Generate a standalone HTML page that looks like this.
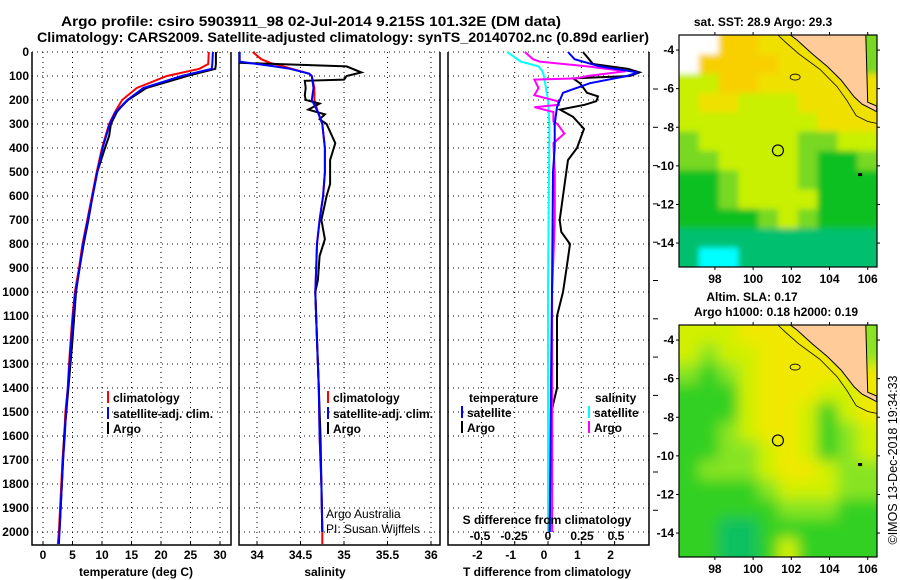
<!DOCTYPE html>
<html><head><meta charset="utf-8"><style>
html,body{margin:0;padding:0;background:#fff;}
svg{display:block;font-family:"Liberation Sans",Arial,sans-serif;}
.tk{font-size:12px;font-weight:bold;fill:#000;}
.ttl{font-size:14px;font-weight:bold;fill:#000;}
.lg{font-size:12px;font-weight:bold;fill:#000;}
</style></head><body>
<svg id="chart" width="900" height="580" viewBox="0 0 900 580">
<defs>
<clipPath id="clip1"><rect x="679" y="35" width="198" height="232"/></clipPath>
<clipPath id="clip2"><rect x="679" y="325" width="198" height="232"/></clipPath>
<filter id="blur1" x="-10%" y="-10%" width="120%" height="120%"><feGaussianBlur stdDeviation="3"/></filter>
<filter id="blur2" x="-10%" y="-10%" width="120%" height="120%"><feGaussianBlur stdDeviation="7"/></filter>
</defs>
<text x="311" y="26" text-anchor="middle" class="ttl" textLength="500" lengthAdjust="spacingAndGlyphs">Argo profile: csiro 5903911_98 02-Jul-2014 9.215S 101.32E (DM data)</text>
<text x="343" y="42" text-anchor="middle" class="ttl" textLength="612" lengthAdjust="spacingAndGlyphs">Climatology: CARS2009. Satellite-adjusted climatology: synTS_20140702.nc (0.89d earlier)</text>
<g id="g1"></g>
<g id="g2"></g>
<g id="g3"></g>
<g id="m1"></g>
<g id="m2"></g>
<text transform="translate(897,460) rotate(-90)" text-anchor="middle" style="font-size:12.5px">©IMOS 13-Dec-2018 19:34:33</text>
</svg>
<script>
// ---- data ----
const depthTicks=[0,100,200,300,400,500,600,700,800,900,1000,1100,1200,1300,1400,1500,1600,1700,1800,1900,2000];
const tDepth=[0,50,70,100,150,200,250,300,400,500,600,700,800,900,1000,1100,1200,1300,1400,1500,1600,1700,1800,1900,2000,2050];
const tClim=[28.1,28.0,26.5,21,15.9,13.4,12.2,11.2,10,9.1,8.3,7.5,6.7,6.1,5.4,5.0,4.7,4.4,4.2,3.8,3.6,3.3,3.1,2.9,2.7,2.5];
const tSat=[28.8,28.7,28.6,23.5,17,14.3,12.3,11.3,10.1,9.2,8.4,7.6,6.8,6.2,5.5,5.1,4.8,4.5,4.2,3.9,3.7,3.4,3.2,3.0,2.8,2.7];
const tArgoD=[0,50,70,100,150,200,230,250,300,350,400,500,600,700,800,900,1000,1200,1400,1600,1800,2000];
const tArgo=[29.3,29.3,29.2,24.4,17.5,14.4,13.2,12.5,11.5,11.2,10.5,9.2,8.4,7.7,6.9,6.2,5.6,5.0,4.3,3.6,3.2,2.8];
const sClimD=[0,30,45,60,70,90,100,150,200,250,300,400,500,600,700,800,900,1000,1200,1400,1600,1800,2000,2050];
const sClim=[33.95,34.05,34.15,34.3,34.4,34.6,34.63,34.66,34.66,34.7,34.75,34.78,34.78,34.76,34.72,34.69,34.68,34.67,34.69,34.71,34.72,34.74,34.75,34.75];
const sSatD=[0,40,50,60,70,90,100,150,200,250,300,400,500,600,700,800,900,1000,1200,1400,1600,1800,2000];
const sSat=[33.8,33.8,34.0,34.2,34.38,34.6,34.63,34.65,34.63,34.7,34.75,34.78,34.78,34.76,34.72,34.69,34.68,34.67,34.69,34.71,34.72,34.74,34.75];
const sArgoD=[0,45,60,85,100,115,120,150,180,200,215,240,260,280,300,380,450,550,600,700,780,850,950,1000,1200,1400,1600,1800,2000];
const sArgo=[33.8,33.8,35.03,35.2,35.03,35.0,34.55,34.56,34.55,34.56,34.72,34.59,34.78,34.72,34.8,34.9,34.84,34.84,34.8,34.74,34.78,34.72,34.7,34.67,34.69,34.71,34.73,34.74,34.75];
const dTArgoD=[0,50,70,85,100,110,130,170,185,205,220,240,270,300,320,400,450,500,600,700,750,800,900,1000,1100,1400,1500,2000];
const dTArgo=[1.05,1.35,2.4,2.75,2.46,0.75,0.96,1.17,1.5,1.45,1.1,0.36,0.75,0.95,1.08,0.87,0.6,0.55,0.45,0.35,0.4,0.66,0.56,0.45,0.27,0.27,0.1,0.05];
const dTSatD=[0,30,60,85,100,130,170,230,300,400,500,1000,1500,2000];
const dTSat=[0.6,0.8,1.56,2.7,2.37,1.26,0.45,0.27,0.2,0.2,0.15,0.12,0.08,0.05];
const dSArgoD=[0,30,40,60,80,100,110,115,150,180,205,220,230,250,290,300,340,380,500,700,1000,1500,2000];
const dSArgo=[-0.17,-0.11,-0.06,0.29,0.57,0.29,0.21,-0.1,-0.07,-0.1,0.07,0.08,-0.1,0.04,0.04,0.07,0.12,0.04,0.05,0.05,0.03,0.03,0.03];
const dSSatD=[0,40,60,80,100,200,300,1000,1500,2000];
const dSSat=[-0.3,-0.2,-0.07,-0.04,-0.03,0,0.01,0,0,0];
const tTicks=[0,5,10,15,20,25,30];
const sTicks=[34,34.5,35,35.5,36];
const sTickLabels=["34","34.5","35","35.5","36"];
const dTTicks=[-2,-1,0,1,2];
const dSTicks=[-0.5,-0.25,0,0.25,0.5];
const dSTickLabels=["-0.5","-0.25","0","0.25","0.5"];
// map fields (rows north->south, cols west->east)
const sstGrid=[
[0,0,7,7,6,6,6,6,6,4],[0,7,7,7,7,6,6,6,6,4],[5,5,7,7,6,6,6,6,6,6],[5,6,6,5,5,5,6,6,6,6],
[5,5,5,5,5,5,5,6,6,6],[4,5,5,5,5,5,4,4,5,5],[4,4,5,5,5,5,4,3,3,4],[3,3,4,5,5,5,4,3,3,3],
[3,3,4,5,5,5,5,3,3,3],[3,3,3,3,4,5,4,3,3,3],[2,2,2,2,2,2,2,2,2,2],[2,1,1,2,2,2,2,2,2,2]];
const slaGrid=[
[5,5,5,6,6,6,6,6,6,4],[5,4,5,5,6,6,6,6,6,4],[4,3,4,5,6,6,6,6,6,6],[3,3,3,5,6,6,6,5,5,6],
[3,3,3,5,6,6,5,3,5,6],[3,3,4,5,6,6,5,3,4,5],[3,3,4,4,5,6,5,3,4,5],[3,4,4,4,5,6,6,5,4,4],
[3,3,3,3,4,5,5,5,4,4],[3,3,3,3,3,4,4,4,3,3],[3,3,2,2,3,3,3,3,3,3],[3,3,2,2,3,5,3,3,3,3]];
const lonTicks=[98,100,102,104,106];
const latTicks=[-4,-6,-8,-10,-12,-14];
const argoLon=101.3, argoLat=-9.2;

const NS="http://www.w3.org/2000/svg";
function mk(parent,tag,attrs,text){const e=document.createElementNS(NS,tag);for(const k in attrs)e.setAttribute(k,attrs[k]);if(text!==undefined)e.textContent=text;parent.appendChild(e);return e;}
const Y=d=>52+0.24*d;
const pTop=52,pBot=545;

function panel(g,x0,x1,xScale,gridVals){
  for(const d of depthTicks){const l=mk(g,'line',{x1:x0,x2:x1,y1:Y(d),y2:Y(d),stroke:'#000','stroke-width':1,'stroke-dasharray':'1,4'});
    }
  for(const v of gridVals){const x=xScale(v);const l=mk(g,'line',{x1:x,x2:x,y1:pTop,y2:pBot,stroke:'#000','stroke-width':1,'stroke-dasharray':'1,4'});
    
    const t=mk(g,'line',{x1:x,x2:x,y1:pBot,y2:pBot-4,stroke:'#000'});}
  const f=mk(g,'path',{d:`M${x0},${pTop}V${pBot}H${x1}V${pTop}`,fill:'none',stroke:'#000','stroke-width':1.5});
  
}
function line(g,ds,vs,xScale,color,name,w){
  const p=ds.map((d,i)=>(i?'L':'M')+xScale(vs[i]).toFixed(1)+','+Y(d).toFixed(1)).join('');
  const e=mk(g,'path',{d:p,fill:'none',stroke:color,'stroke-width':w||2});
  
}
function legend(g,x,y,color,label,name){
  const m=mk(g,'line',{x1:x,x2:x,y1:y-11,y2:y+1,stroke:color,'stroke-width':2});
  
  const t=mk(g,'text',{x:x+5,y:y,class:'lg'},label);
  
}

// Panel 1
const g1=document.getElementById('g1');
const xT=v=>43+v*5.9;
panel(g1,32,231,xT,tTicks);
for(const d of depthTicks){const t=mk(g1,'text',{x:29,y:Y(d)+4,'text-anchor':'end',class:'tk'},String(d));}
tTicks.forEach(v=>{const t=mk(g1,'text',{x:xT(v),y:559,'text-anchor':'middle',class:'tk'},String(v));});
line(g1,tDepth,tClim,xT,'#f00','temperature-climatology-line');
line(g1,tArgoD,tArgo,xT,'#000','temperature-argo-line');
line(g1,tDepth,tSat,xT,'#00f','temperature-satellite-line');
legend(g1,108,402,'#f00','climatology','legend-climatology');
legend(g1,108,418,'#00f','satellite-adj. clim.','legend-satellite');
legend(g1,108,433,'#000','Argo','legend-argo');
{const t=mk(g1,'text',{x:136,y:576,'text-anchor':'middle',class:'tk'},'temperature (deg C)');}

// Panel 2
const g2=document.getElementById('g2');
const xS=v=>257+(v-34)*87;
panel(g2,239,440,xS,sTicks);
sTicks.forEach((v,i)=>{const t=mk(g2,'text',{x:xS(v),y:559,'text-anchor':'middle',class:'tk'},sTickLabels[i]);});
line(g2,sClimD,sClim,xS,'#f00','salinity-climatology-line');
line(g2,sArgoD,sArgo,xS,'#000','salinity-argo-line');
line(g2,sSatD,sSat,xS,'#00f','salinity-satellite-line');
legend(g2,328,402,'#f00','climatology','legend-climatology');
legend(g2,328,418,'#00f','satellite-adj. clim.','legend-satellite');
legend(g2,328,433,'#000','Argo','legend-argo');
{let t=mk(g2,'text',{x:326,y:518,style:'font-size:12px'},'Argo Australia');
 t=mk(g2,'text',{x:326,y:533,style:'font-size:12px'},'PI: Susan Wijffels');
 t=mk(g2,'text',{x:325,y:576,'text-anchor':'middle',class:'tk'},'salinity');}

// Panel 3
const g3=document.getElementById('g3');
const xDT=v=>548+v*33.3;
const xDS=v=>548+v*136;
panel(g3,448,649,xDT,dTTicks);
dTTicks.forEach(v=>{const t=mk(g3,'text',{x:xDT(v)-4,y:559,'text-anchor':'middle',class:'tk'},String(v));});
dSTicks.forEach((v,i)=>{const t=mk(g3,'text',{x:xDS(v),y:540,'text-anchor':'middle',class:'tk'},dSTickLabels[i]);});
line(g3,dSSatD,dSSat,xDS,'#0ff','sdiff-satellite-line');
line(g3,dTArgoD,dTArgo,xDT,'#000','tdiff-argo-line');
line(g3,dSArgoD,dSArgo,xDS,'#f0f','sdiff-argo-line');
line(g3,dTSatD,dTSat,xDT,'#00f','tdiff-satellite-line');
{let t=mk(g3,'text',{x:469,y:402,class:'lg'},'temperature');
 t=mk(g3,'text',{x:595,y:402,class:'lg'},'salinity');}
legend(g3,462,417,'#00f','satellite','legend-t-satellite');
legend(g3,462,432,'#000','Argo','legend-t-argo');
legend(g3,589,417,'#0ff','satellite','legend-s-satellite');
legend(g3,589,432,'#f0f','Argo','legend-s-argo');
{let t=mk(g3,'text',{x:547,y:524,'text-anchor':'middle',class:'tk'},'S difference from climatology');
 t=mk(g3,'text',{x:547,y:576,'text-anchor':'middle',class:'tk'},'T difference from climatology');}
for(let i=0;i<12;i++){const y=89+i*38.3;const l=mk(g3,'line',{x1:653,x2:658,y1:y,y2:y,stroke:'#000'});}

// Maps
const sstCols=['#fff','#00ffff','#00c070','#10c020','#78d820','#c8f000','#f0e000','#f8d000'];
const slaCols=['#fff','#00ffff','#10c060','#30d020','#88e420','#d0f000','#f0e800','#f0e800'];
function drawMap(g,y0,grid,cols,titles,clipId,blurId){
  const x0=679,x1=877,y1=y0+232;
  const lonX=l=>x0+(l-96.12)*19.1, latY=l=>y0+(-3.22-l)*19.3;
  const cw=(x1-x0)/10,ch=(y1-y0)/12;
  const cg=mk(g,'g',{'clip-path':'url(#'+clipId+')'});
  
  
  const fg=mk(cg,'g',{filter:'url(#'+blurId+')'});
  grid.forEach((row,r)=>row.forEach((v,c)=>{
    const x=x0+c*cw-(c===0?20:0), y=y0+r*ch-(r===0?20:0);
    const w=cw+0.5+(c===0?20:0)+(c===9?20:0), h=ch+0.5+(r===0?20:0)+(r===11?20:0);
    const e=mk(fg,'rect',{x:x,y:y,width:w,height:h,fill:cols[v]});
    
    }));
  const land=[[101.95,-3.22],[102.3,-3.48],[103.1,-4.2],[103.9,-4.87],[104.6,-5.55],[105.3,-6.43],[105.7,-6.8],[106.3,-7.1],[106.47,-7.2],[106.47,-6.9],[106.0,-6.7],[105.9,-3.22]];
  const lp=land.map((p,i)=>(i?'L':'M')+lonX(p[0]).toFixed(1)+','+latY(p[1]).toFixed(1)).join('')+'Z';
  let e=mk(cg,'path',{d:lp,fill:'#ffcc99',stroke:'#000','stroke-width':1});
  
  
  const iso=[[101.3,-3.22],[101.7,-3.6],[102.4,-4.2],[103.5,-5.0],[104.4,-5.9],[104.9,-6.6],[105.4,-7.4],[106.0,-7.7],[106.47,-7.8]];
  e=mk(cg,'path',{d:iso.map((p,i)=>(i?'L':'M')+lonX(p[0]).toFixed(1)+','+latY(p[1]).toFixed(1)).join(''),fill:'none',stroke:'#000','stroke-width':0.8});
  
  
  e=mk(g,'ellipse',{cx:lonX(102.2),cy:latY(-5.4),rx:5,ry:3,fill:'none',stroke:'#000','stroke-width':0.8});
  
  
  e=mk(g,'rect',{x:lonX(105.6)-2,y:latY(-10.45)-1.5,width:4,height:3,fill:'#000'});
  
  
  e=mk(g,'circle',{cx:lonX(argoLon),cy:latY(argoLat),r:5.5,fill:'none',stroke:'#000','stroke-width':1.2});
  
  
  e=mk(g,'rect',{x:x0,y:y0,width:x1-x0,height:y1-y0,fill:'none',stroke:'#000','stroke-width':1.2});
  
  
  lonTicks.forEach(l=>{const x=lonX(l);mk(g,'line',{x1:x,x2:x,y1:y0-3,y2:y0,stroke:'#000'});mk(g,'line',{x1:x,x2:x,y1:y1,y2:y1+3,stroke:'#000'});
    const t=mk(g,'text',{x:x,y:y1+16,'text-anchor':'middle',class:'tk'},String(l));});
  latTicks.forEach(l=>{const y=latY(l);mk(g,'line',{x1:x0-3,x2:x0,y1:y,y2:y,stroke:'#000'});mk(g,'line',{x1:x1,x2:x1+3,y1:y,y2:y,stroke:'#000'});
    const t=mk(g,'text',{x:x0-5,y:y+4,'text-anchor':'end',class:'tk'},String(l));});
  titles.forEach(tt=>{const t=mk(g,'text',{x:tt[0],y:tt[1],'text-anchor':'middle',class:'tk'},tt[2]);});
}
drawMap(document.getElementById('m1'),35,sstGrid,sstCols,[[763,26,'sat. SST: 28.9 Argo: 29.3']],'clip1','blur1');
drawMap(document.getElementById('m2'),325,slaGrid,slaCols,[[752,301,'Altim. SLA: 0.17'],[776,316,'Argo h1000: 0.18 h2000: 0.19']],'clip2','blur2');
</script>
</body></html>
